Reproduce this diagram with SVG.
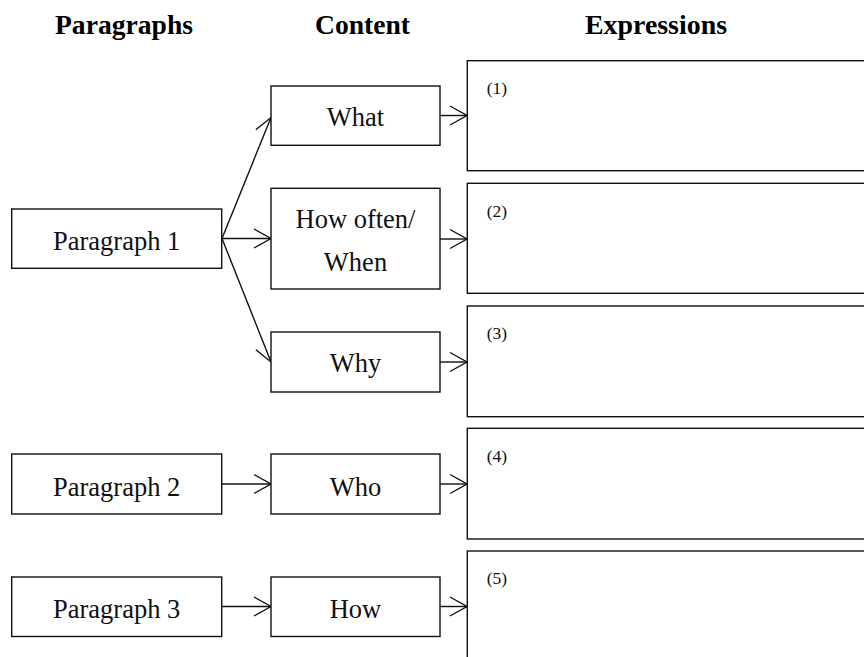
<svg xmlns="http://www.w3.org/2000/svg" width="864" height="657" viewBox="0 0 864 657">
<style>
.box{fill:#fff;stroke:#111;stroke-width:1.4}
.lbl{font-family:"Liberation Serif","Times New Roman",serif;font-size:26.5px;fill:#111;text-anchor:middle}
.hdr{font-family:"Liberation Serif","Times New Roman",serif;font-size:28px;font-weight:bold;fill:#000;text-anchor:middle}
.num{font-family:"Liberation Serif","Times New Roman",serif;font-size:17.5px;fill:#111}
.con{fill:none;stroke:#111;stroke-width:1.4;marker-end:url(#ah)}
</style>
<defs>
<marker id="ah" markerUnits="userSpaceOnUse" markerWidth="20" markerHeight="24" viewBox="-19 -11 20 22" refX="0" refY="0" orient="auto">
<path d="M-17,-9.5 L0,0 L-17,9.5" fill="none" stroke="#111" stroke-width="1.4"/>
</marker>
</defs>
<rect width="864" height="657" fill="#fff"/>
<g id="headers">
<text class="hdr" x="124" y="34" textLength="138" lengthAdjust="spacingAndGlyphs">Paragraphs</text>
<text class="hdr" x="362.5" y="34" textLength="95" lengthAdjust="spacingAndGlyphs">Content</text>
<text class="hdr" x="656" y="34" textLength="142" lengthAdjust="spacingAndGlyphs">Expressions</text>
</g>
<g id="connectors">
<line class="con" x1="222" y1="238.5" x2="271" y2="117.5"/>
<line class="con" x1="222" y1="238.5" x2="271" y2="238.5"/>
<line class="con" x1="222" y1="238.5" x2="271" y2="362"/>
<line class="con" x1="222" y1="484" x2="271" y2="484"/>
<line class="con" x1="222" y1="606.5" x2="271" y2="606.5"/>
<line class="con" x1="440" y1="115.5" x2="467" y2="115.5"/>
<line class="con" x1="440" y1="239" x2="467" y2="239"/>
<line class="con" x1="440" y1="362" x2="467" y2="362"/>
<line class="con" x1="440" y1="484" x2="467" y2="484"/>
<line class="con" x1="440" y1="606.5" x2="467" y2="606.5"/>
</g>
<g id="p1"><rect class="box" x="11.7" y="209" width="210" height="59.3"/><text class="lbl" x="116.7" y="250">Paragraph 1</text></g>
<g id="p2"><rect class="box" x="11.7" y="454" width="210" height="60"/><text class="lbl" x="116.7" y="495.7">Paragraph 2</text></g>
<g id="p3"><rect class="box" x="11.7" y="577" width="210" height="59.5"/><text class="lbl" x="116.7" y="618.3">Paragraph 3</text></g>
<g id="what"><rect class="box" x="271" y="86" width="169" height="59.3"/><text class="lbl" x="355.5" y="126">What</text></g>
<g id="howoften"><rect class="box" x="271" y="188.3" width="169" height="100.7"/><text class="lbl" x="355.5" y="228.3">How often/</text><text class="lbl" x="355.5" y="271">When</text></g>
<g id="why"><rect class="box" x="271" y="332" width="169" height="60"/><text class="lbl" x="355.5" y="371.7">Why</text></g>
<g id="who"><rect class="box" x="271" y="454" width="169" height="60"/><text class="lbl" x="355.5" y="495.7">Who</text></g>
<g id="how"><rect class="box" x="271" y="577" width="169" height="59.5"/><text class="lbl" x="355.5" y="618.3">How</text></g>
<g id="e1"><rect class="box" x="467.3" y="60.7" width="420" height="110"/><text class="num" x="486.7" y="94">(1)</text></g>
<g id="e2"><rect class="box" x="467.3" y="183.3" width="420" height="110"/><text class="num" x="486.7" y="216.6">(2)</text></g>
<g id="e3"><rect class="box" x="467.3" y="306" width="420" height="110.7"/><text class="num" x="486.7" y="339.3">(3)</text></g>
<g id="e4"><rect class="box" x="467.3" y="428.3" width="420" height="110.7"/><text class="num" x="486.7" y="461.6">(4)</text></g>
<g id="e5"><rect class="box" x="467.3" y="551" width="420" height="120"/><text class="num" x="486.7" y="584.3">(5)</text></g>
</svg>
